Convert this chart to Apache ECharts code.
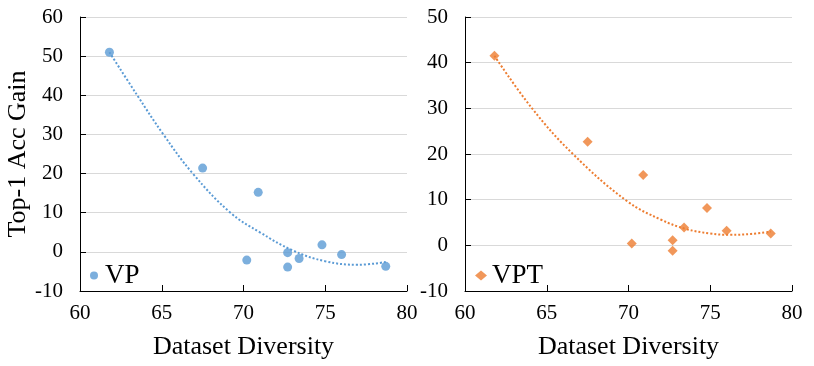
<!DOCTYPE html>
<html>
<head>
<meta charset="utf-8">
<script src="https://cdn.jsdelivr.net/npm/echarts@6/dist/echarts.min.js"></script>
<style>
html,body{margin:0;padding:0;background:#fff;}
#main{width:814px;height:366px;}
</style>
</head>
<body>
<div id="main"></div>
<script>
// data
var vp_x = [61.8, 67.5, 70.9, 70.2, 72.7, 72.7, 73.4, 74.8, 76.0, 78.7];
var vp_y = [51.0, 21.4, 15.2, -2.1, -0.2, -3.9, -1.7, 1.8, -0.7, -3.7];
var vpt_x = [61.8, 67.5, 70.9, 70.2, 72.7, 72.7, 73.4, 74.8, 76.0, 78.7];
var vpt_y = [41.5, 22.7, 15.4, 0.4, 1.1, -1.2, 3.9, 8.2, 3.2, 2.6];

// trendline points
var vp_trend_x = [61.8, 63.5, 65.1, 66.9, 69.2, 71.0, 73.0, 75.0, 77.0, 78.7];
var vp_trend_y = [51.0, 40.0, 30.0, 20.0, 10.0, 5.0, 0.4, -2.4, -3.3, -2.6];
var vpt_trend_x = [61.8, 64.1, 66.6, 69.9, 72.0, 73.5, 75.0, 76.2, 77.5, 78.7];
var vpt_trend_y = [41.5, 30.0, 20.0, 9.7, 5.6, 3.6, 2.6, 2.3, 2.5, 3.0];

var x_ticks = [60, 65, 70, 75, 80];

function pairs(xs, ys){
	var arr = [];
	for(var i = 0; i < xs.length; i++){
		arr.push([xs[i], ys[i]]);
	}
	return arr;
}

var font = 'Liberation Serif';

function make_x(idx){
	return {
		type:'value', gridIndex:idx, min:x_ticks[0], max:x_ticks[x_ticks.length-1], interval:5,
		name:'Dataset Diversity', nameLocation:'middle', nameGap:43,
		nameTextStyle:{fontFamily:font, fontSize:26, color:'#000'},
		axisLine:{show:true, onZero:false, lineStyle:{color:'#000', width:1}},
		axisTick:{show:true, inside:true, length:6, lineStyle:{color:'#000'}},
		axisLabel:{fontFamily:font, fontSize:21, color:'#000', margin:12},
		splitLine:{show:false}
	};
}

function make_y(idx, max, name){
	return {
		type:'value', gridIndex:idx, min:-10, max:max, interval:10,
		name:name, nameLocation:'middle', nameGap:46,
		nameTextStyle:{fontFamily:font, fontSize:26, color:'#000'},
		axisLine:{show:true, onZero:false, lineStyle:{color:'#000', width:1}},
		axisTick:{show:true, inside:true, length:6, lineStyle:{color:'#000'}},
		axisLabel:{fontFamily:font, fontSize:21, color:'#000', margin:17},
		splitLine:{show:true, lineStyle:{color:'#D9D9D9', width:1}}
	};
}

var myChart = echarts.init(document.getElementById('main'));

var option = {
	backgroundColor:'#fff',
	animation:false,
	grid:[
		{left:80, right:407, top:17, bottom:75},
		{left:465, right:22, top:17, bottom:75}
	],
	xAxis:[make_x(0), make_x(1)],
	yAxis:[make_y(0, 60, 'Top-1 Acc Gain'), make_y(1, 50, '')],
	legend:[
		{data:['VP'], left:90, top:262, padding:0, itemWidth:12, itemHeight:8,
		 textStyle:{fontFamily:font, fontSize:27, color:'#000'}},
		{data:['VPT'], left:475, top:262, padding:0, itemWidth:12, itemHeight:10,
		 textStyle:{fontFamily:font, fontSize:27, color:'#000'}}
	],
	series:[
		{
			name:'VP trend', type:'line', xAxisIndex:0, yAxisIndex:0,
			data:pairs(vp_trend_x, vp_trend_y), smooth:0.4, symbol:'none',
			lineStyle:{color:'#5B9BD5', width:2, type:[2,2]}, z:1
		},
		{
			name:'VP', type:'scatter', xAxisIndex:0, yAxisIndex:0,
			data:pairs(vp_x, vp_y), symbol:'circle', symbolSize:9,
			itemStyle:{color:'#5B9BD5'}, z:2
		},
		{
			name:'VPT trend', type:'line', xAxisIndex:1, yAxisIndex:1,
			data:pairs(vpt_trend_x, vpt_trend_y), smooth:0.4, symbol:'none',
			lineStyle:{color:'#ED7D31', width:2, type:[2,2]}, z:1
		},
		{
			name:'VPT', type:'scatter', xAxisIndex:1, yAxisIndex:1,
			data:pairs(vpt_x, vpt_y), symbol:'diamond', symbolSize:10,
			itemStyle:{color:'#ED7D31'}, z:2
		}
	]
};

myChart.setOption(option);
</script>
</body>
</html>
